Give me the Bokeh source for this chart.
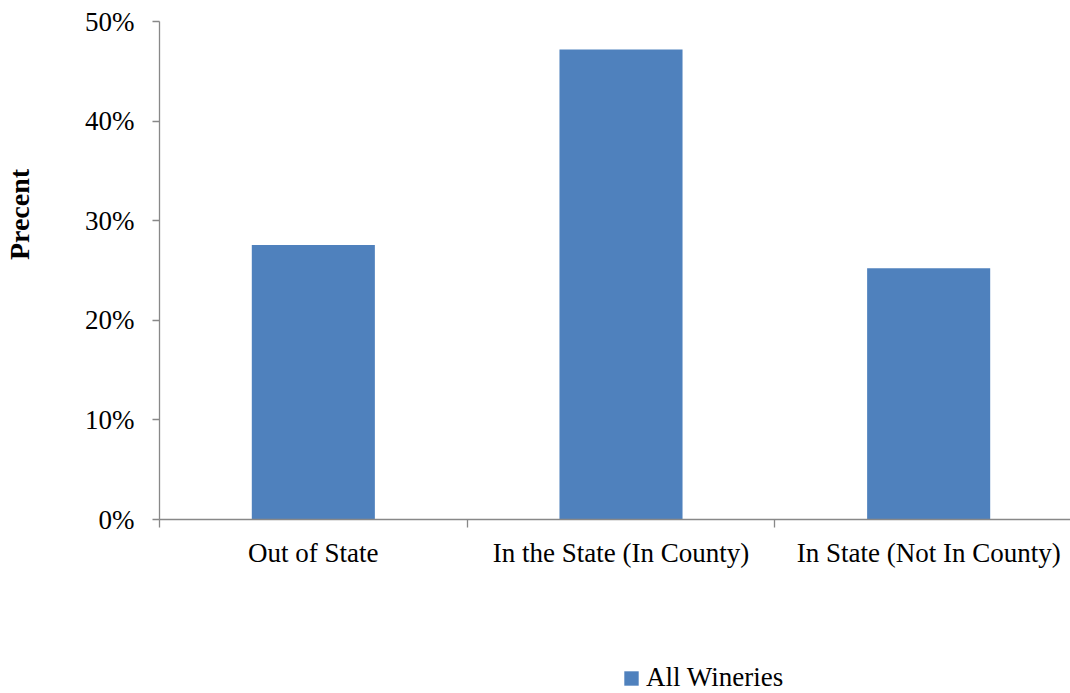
from bokeh.plotting import figure
from bokeh.layouts import column
from bokeh.models import (ColumnDataSource, FixedTicker, NumeralTickFormatter, LinearAxis,
                          Legend, LegendItem, Range1d)
from bokeh.embed import file_html
from bokeh.resources import INLINE

categories = ["Out of State", "In the State (In County)", "In State (Not In County)"]
values = [0.2755, 0.472, 0.2522]
series_name = "All Wineries"
y_title = "Precent"

FONT = "Liberation Serif"
BAR = "#4F81BD"
AXIS = "#888888"

x = [i + 0.5 for i in range(len(categories))]
src = ColumnDataSource(dict(x=x, top=values))

p = figure(width=1070, height=610, output_backend="svg", toolbar_location=None,
           x_range=Range1d(0, 2.961), y_range=Range1d(0, 0.5),
           min_border_left=158, min_border_right=0, min_border_top=21,
           min_border_bottom=91)
p.outline_line_color = None
p.xgrid.visible = False
p.ygrid.visible = False

r = p.vbar(x="x", top="top", width=0.4, bottom=0, source=src,
           fill_color=BAR, line_color=None)

# y axis
ya = p.yaxis[0]
ya.ticker = FixedTicker(ticks=[0, 0.1, 0.2, 0.3, 0.4, 0.5], minor_ticks=[])
ya.formatter = NumeralTickFormatter(format="0%")
ya.axis_line_color = AXIS
ya.axis_line_width = 1.3
ya.major_tick_line_color = AXIS
ya.major_tick_line_width = 1.3
ya.major_tick_out = 7
ya.major_tick_in = 0
ya.minor_tick_line_color = None
ya.major_label_standoff = 18
ya.major_label_text_font = FONT
ya.major_label_text_font_size = "27px"
ya.major_label_text_color = "black"

# y axis title on a bare outer axis; leading no-break spaces lift it above the middle
ya2 = LinearAxis(axis_label="\u00a0" * 16 + y_title,
                 ticker=FixedTicker(ticks=[]),
                 axis_line_color=None, major_tick_line_color=None,
                 minor_tick_line_color=None, axis_label_standoff=48,
                 axis_label_text_font=FONT, axis_label_text_font_style="bold",
                 axis_label_text_font_size="28px", axis_label_text_color="black")
p.add_layout(ya2, "left")

# x axis
xa = p.xaxis[0]
xa.ticker = FixedTicker(ticks=x, minor_ticks=[0, 1, 2, 3])
xa.major_label_overrides = {xi: c for xi, c in zip(x, categories)}
xa.axis_line_color = AXIS
xa.axis_line_width = 1.3
xa.major_tick_line_color = None
xa.major_tick_out = 0
xa.major_tick_in = 0
xa.minor_tick_line_color = AXIS
xa.minor_tick_line_width = 1.3
xa.minor_tick_out = 8
xa.minor_tick_in = 0
xa.major_label_standoff = 10
xa.major_label_text_font = FONT
xa.major_label_text_font_size = "27px"
xa.major_label_text_color = "black"

# legend strip underneath (the series' bars sit outside this strip's view)
pl = figure(width=1070, height=83, output_backend="svg", toolbar_location=None,
            x_range=Range1d(100, 101), y_range=Range1d(100, 101),
            min_border=0, outline_line_color=None)
pl.axis.visible = False
pl.grid.visible = False
sw = pl.vbar(x="x", top="top", width=0.4, bottom=0, source=src,
             fill_color=BAR, line_color=None)
legend = Legend(items=[LegendItem(label=series_name, renderers=[sw])],
                location=(463, 0), orientation="horizontal",
                border_line_color=None, background_fill_alpha=0,
                padding=0, margin=0, glyph_width=18, glyph_height=18,
                label_standoff=6, label_text_font=FONT,
                label_text_font_size="27px", label_text_color="black")
pl.add_layout(legend, "center")

layout = column(p, pl, spacing=0)
open("out.html", "w").write(file_html(layout, INLINE))
